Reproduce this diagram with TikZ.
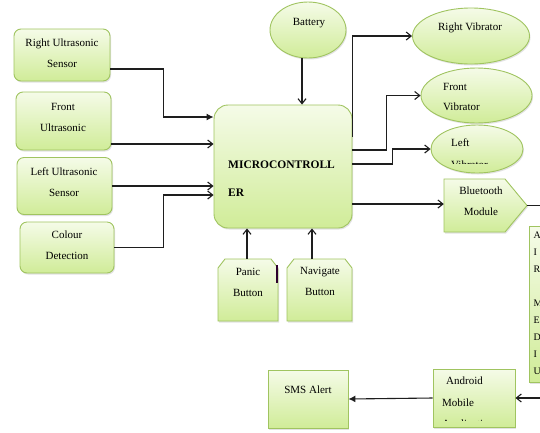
\documentclass[tikz,border=0pt]{standalone}
\usepackage{fontspec}
\setmainfont{Liberation Serif}
\usetikzlibrary{shapes.geometric,arrows.meta,shadows}
\definecolor{bord}{RGB}{160,196,96}
\definecolor{ftop}{RGB}{245,251,232}
\definecolor{fbot}{RGB}{208,236,152}
\definecolor{ln}{RGB}{30,30,30}
\begin{document}
\begin{tikzpicture}[x=1pt,y=-1pt,
  box/.style={draw=bord, line width=0.9pt, top color=ftop, bottom color=fbot,
    drop shadow={shadow xshift=1pt, shadow yshift=-1.5pt, fill=black!22}, inner sep=0pt},
  rbox/.style={box, rectangle, rounded corners=7pt},
  sbox/.style={box, rectangle},
  ell/.style={box, ellipse},
  anch/.style={rectangle, inner sep=0pt},
  txt/.style={font=\fontsize{11}{21}\selectfont, align=center, inner sep=0pt, text=black},
  arr/.style={draw=ln, line width=1.1pt, -{Straight Barb[length=5pt,width=8pt]}},
  farr/.style={draw=ln, line width=1.1pt, -{Latex[length=7pt,width=7pt]}},
  plain/.style={draw=ln, line width=1.1pt}]
\clip (0,0) rectangle (540,432);
\fill[white] (0,0) rectangle (540,432);

% left inputs
\node[rbox, minimum width=96pt, minimum height=52pt] (rus) at (62,55) {};
\node[txt] (trus) at (62,53) {Right Ultrasonic\\Sensor};
\node[rbox, minimum width=95pt, minimum height=58pt] (fus) at (63.5,121) {};
\node[txt] (tfus) at (63,117) {Front\\Ultrasonic};
\node[rbox, minimum width=95pt, minimum height=57pt] (lus) at (64.5,186) {};
\node[txt] (tlus) at (64,182.5) {Left Ultrasonic\\Sensor};
\node[rbox, minimum width=94pt, minimum height=51pt] (cd) at (67,247.5) {};
\node[txt] (tcd) at (67,245.5) {Colour\\Detection};

% microcontroller
\node[box, rounded corners=14pt, minimum width=138pt, minimum height=123pt] (mc) at (283,166.5) {};
\node[font=\fontsize{11.5}{28}\selectfont\bfseries, align=left, anchor=west, inner sep=0pt] (tmc) at (228,179) {MICROCONTROLL\\ER};

% battery
\node[ell, minimum width=76pt, minimum height=56pt] (bat) at (308,30) {};
\node[txt] (tbat) at (309,23) {Battery};

% vibrators
\node[ell, minimum width=117pt, minimum height=56pt] (rv) at (471,36) {};
\node[txt] (trv) at (470,28) {Right Vibrator};
\node[ell, minimum width=111pt, minimum height=55pt] (fv) at (476.5,95.5) {};
\node[txt, anchor=west] (tfv) at (443,87) {Front};
\begin{scope}
\clip (420,60) rectangle (540,110.5);
\node[txt, anchor=west] (tfv2) at (443,107) {Vibrator};
\end{scope}
\node[ell, minimum width=92pt, minimum height=48pt] (lv) at (477,149) {};
\node[txt, anchor=west] (tlv) at (451,143) {Left};
\begin{scope}
\clip (420,120) rectangle (540,163.5);
\node[txt, anchor=west] (tlv2) at (451,165) {Vibrator};
\end{scope}

% bluetooth (pentagon)
\path[box] (444,179) -- (505,179) -- (527,205.5) -- (505,232) -- (444,232) -- cycle;
\node[anch, minimum width=83pt, minimum height=53pt] (bt) at (485.5,205.5) {};
\node[txt] (tbt) at (481,201.5) {Bluetooth\\Module};

% right cut box
\node[sbox, minimum width=40pt, minimum height=156pt, anchor=north west] (rb) at (529,226) {};
\node[font=\fontsize{10}{17}\selectfont, align=left, anchor=north west, inner sep=0pt] (trb) at (533.5,232) {A\\I\\R\\\mbox{}\\M\\E\\D\\I\\U};

% buttons (snipped top corners)
\path[box] (218,268) -- (225,259) -- (271,259) -- (278,268) -- (278,321) -- (218,321) -- cycle;
\node[anch, minimum width=60pt, minimum height=62pt] (pb) at (248,290) {};
\node[txt] (tpb) at (248,282) {Panic\\Button};
\path[box] (287,268) -- (294,259) -- (345,259) -- (352,268) -- (352,321) -- (287,321) -- cycle;
\node[anch, minimum width=65pt, minimum height=62pt] (nb) at (319.5,290) {};
\node[txt] (tnb) at (320,281) {Navigate\\Button};
\draw[line width=1.5pt, color=black!65!violet] (277,265) -- (277,283);

% bottom
\node[sbox, minimum width=80pt, minimum height=58pt] (sms) at (308,399) {};
\node[txt] (tsms) at (308,390) {SMS Alert};
\node[sbox, minimum width=82pt, minimum height=58pt] (am) at (474,398) {};
\node[txt, anchor=west] (tam1) at (446,381) {Android};
\node[txt, anchor=west] (tam2) at (442,403) {Mobile};
\begin{scope}
\clip (430,400) rectangle (520,420.5);
\node[txt, anchor=west] (tam3) at (442,425) {Application};
\end{scope}

% connectors
\path ([yshift=-14pt]rus.east) coordinate (a1);
\draw[farr] (a1) -- ++(53,0) |- ([yshift=49.5pt]mc.west);
\path ([yshift=-23pt]fus.east) coordinate (a2);
\draw[arr] (a2) -- (a2 -| mc.west);
\draw[arr] (lus.east) -- (lus.east -| mc.west);
\draw[arr] (cd.east) -- ++(49,0) |- ([yshift=-28.5pt]mc.west);
\path ([xshift=-1pt]pb.north) coordinate (a5);
\draw[arr] (a5) -- (a5 |- mc.south);
\path ([xshift=-7.5pt]nb.north) coordinate (a6);
\draw[arr] (a6) -- (a6 |- mc.south);
\path ([xshift=-6pt]bat.south) coordinate (a7);
\draw[arr] (a7) -- (a7 |- mc.north);
\draw[arr] ([yshift=29.5pt]mc.east) |- (rv.west);
\draw[arr] ([yshift=16.5pt]mc.east) -- ++(34,0) |- (fv.west);
\draw[arr] ([yshift=2.5pt]mc.east) -- ++(40,0) |- (lv.west);
\path ([yshift=-37.5pt]mc.east) coordinate (a11);
\draw[arr] (a11) -- (a11 -| bt.west);
\coordinate (e1) at (550,205.5);
\draw[plain] (bt.east) -- (e1);
\coordinate (e2) at (550,398);
\draw[arr] (e2) -- (am.east);
\draw[farr] (am.west) -- (sms.east);
\end{tikzpicture}
\end{document}
